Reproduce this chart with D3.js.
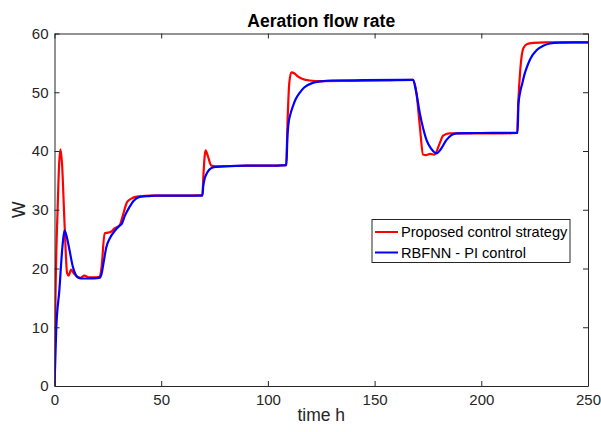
<!DOCTYPE html>
<html>
<head>
<meta charset="utf-8">
<script src="https://cdn.jsdelivr.net/npm/d3@7"></script>
<style>
  body { margin: 0; background: #fff; }
  text { font-family: Arial, "Liberation Sans", sans-serif; fill: #262626; }
</style>
</head>
<body>
<div id="chart"></div>
<script>
// Data
var xTicks = [0, 50, 100, 150, 200, 250];
var yTicks = [0, 10, 20, 30, 40, 50, 60];
var seriesNames = ["Proposed control strategy", "RBFNN - PI control"];

// Proposed control strategy (red)
var redT = [0, 0.5, 1.5, 2.2, 2.8, 3.5, 4.7, 5.9, 6.6, 7.8, 9, 10.9, 12, 14, 16, 18, 21, 22, 23.5, 25, 26.6, 28,
  30.5, 32, 34, 36, 38, 40, 45, 50, 60, 69.3, 69.8, 70.8, 71.8, 73.5, 76, 80, 90, 100, 108.5, 109.3, 110,
  111, 112.5, 114, 116, 119.6, 125, 140, 155, 168, 169.6, 171.2, 172.7, 174, 176, 178, 180.5, 182.1, 185,
  190, 200, 210, 216.8, 217.3, 218.3, 219.7, 221.5, 224.4, 230, 240, 250];
var redW = [0, 16, 30.5, 38, 40.3, 38, 27.7, 19.2, 18.8, 19.8, 19.2, 18.5, 18.4, 18.8, 18.5, 18.5, 18.6, 20, 26,
  26.1, 26.3, 26.8, 27.3, 29, 31.3, 31.9, 32.2, 32.3, 32.4, 32.4, 32.4, 32.5, 36, 40.1, 39.2, 37.5, 37.4,
  37.4, 37.5, 37.5, 37.6, 46, 51.5, 53.4, 53.2, 52.7, 52.3, 52.0, 51.9, 51.95, 52.0, 52.1, 49.9, 44.2,
  39.4, 39.3, 39.5, 39.4, 41.3, 42.6, 43.0, 43.0, 43.0, 43.0, 43.1, 48, 54, 57.5, 58.2, 58.4, 58.5, 58.5, 58.5];

// RBFNN - PI control (blue)
var blueT = [0, 0.8, 2.3, 3.6, 4.7, 5.8, 7, 8.6, 10, 11.5, 13, 16, 21, 22, 23, 24.2, 26, 28, 30.5, 31.5, 33,
  35.2, 37, 39.9, 43, 47, 55, 69.3, 69.7, 70.3, 71.1, 72.5, 74.2, 76, 80, 90, 100, 108.7, 109.1, 109.6,
  110.5, 111.7, 113, 114.9, 117, 121, 125, 130, 145, 168, 169.5, 171.2, 172.8, 174.3, 176.5, 179, 181,
  183.7, 186, 188.4, 195, 205, 217, 217.4, 218.1, 219.2, 220.2, 221.2, 223, 226, 229, 232.2, 237, 243, 250];
var blueW = [0, 9.5, 16.4, 23.2, 26.5, 25.3, 23.2, 20.3, 18.9, 18.4, 18.3, 18.3, 18.4, 19, 21, 23.5, 25.2, 26.3,
  27.3, 27.6, 29, 30.5, 31.5, 32.2, 32.3, 32.4, 32.4, 32.4, 34, 35.2, 36, 36.8, 37.2, 37.3, 37.4, 37.5,
  37.5, 37.6, 42, 44.5, 46.2, 47.6, 48.8, 49.9, 50.8, 51.6, 51.85, 52.0, 52.05, 52.1, 50, 46.4, 43.8, 41.9,
  40.4, 39.6, 40.3, 41.9, 42.7, 43.0, 43.05, 43.1, 43.1, 48, 49.8, 51.5, 53, 54.1, 55.7, 57.2, 57.9, 58.3,
  58.45, 58.5, 58.5];

var colors = ["#ff0000", "#0000ff"];

// Chart dimensions
var W = 601, H = 432;
var margin = {top: 33.5, right: 13, bottom: 46, left: 54.5};
var width = W - margin.left - margin.right;
var height = H - margin.top - margin.bottom;

var xScale = d3.scaleLinear().domain([0, 250]).range([0, width]),
    yScale = d3.scaleLinear().domain([0, 60]).range([height, 0]);

var svg = d3.select("#chart").append("svg")
    .attr("width", W)
    .attr("height", H)
  .append("g")
    .attr("transform", "translate(" + margin.left + "," + margin.top + ")");

// clip so lines stay in the box
svg.append("clipPath").attr("id", "clip")
  .append("rect").attr("width", width).attr("height", height);

var line = d3.line()
    .x(function(d) { return xScale(d[0]); })
    .y(function(d) { return yScale(d[1]); })
    .curve(d3.curveMonotoneX);

var series = [d3.zip(redT, redW), d3.zip(blueT, blueW)];

svg.append("g").attr("clip-path", "url(#clip)")
  .selectAll("path")
  .data(series)
  .enter().append("path")
    .attr("d", line)
    .attr("fill", "none")
    .attr("stroke", function(d, i) { return colors[i]; })
    .attr("stroke-width", 2.2)
    .attr("stroke-linejoin", "round");

// Axes (box with inward ticks on all sides)
function styleAxis(g) {
  g.select(".domain").attr("stroke", "#262626");
  g.selectAll(".tick line").attr("stroke", "#262626");
  g.selectAll("text").style("font-size", "15px").attr("fill", "#262626");
}

svg.append("g")
    .attr("transform", "translate(0," + height + ")")
    .call(d3.axisBottom(xScale).tickValues(xTicks).tickSizeInner(-5).tickSizeOuter(0).tickPadding(8))
    .call(styleAxis);

svg.append("g")
    .call(d3.axisLeft(yScale).tickValues(yTicks).tickSizeInner(-5).tickSizeOuter(0).tickPadding(6))
    .call(styleAxis);

svg.append("g")
    .call(d3.axisTop(xScale).tickValues(xTicks).tickSizeInner(-5).tickSizeOuter(0).tickFormat(""))
    .call(styleAxis);

svg.append("g")
    .attr("transform", "translate(" + width + ",0)")
    .call(d3.axisRight(yScale).tickValues(yTicks).tickSizeInner(-5).tickSizeOuter(0).tickFormat(""))
    .call(styleAxis);

// Labels
svg.append("text")
    .attr("x", width / 2)
    .attr("y", -7)
    .attr("text-anchor", "middle")
    .style("font-size", "17.5px")
    .style("font-weight", "bold")
    .style("fill", "#000")
    .text("Aeration flow rate");

svg.append("text")
    .attr("x", width / 2)
    .attr("y", height + 35)
    .attr("text-anchor", "middle")
    .style("font-size", "17.5px")
    .text("time h");

svg.append("text")
    .attr("transform", "translate(" + (-30) + "," + (height / 2) + ") rotate(-90)")
    .attr("text-anchor", "middle")
    .style("font-size", "17.5px")
    .text("W");

// Legend
var legend = svg.append("g")
    .attr("transform", "translate(" + (372 - margin.left) + "," + (219.5 - margin.top) + ")");

legend.append("rect")
    .attr("width", 198)
    .attr("height", 43)
    .attr("fill", "#fff")
    .attr("stroke", "#262626")
    .attr("stroke-width", 1);

var item = legend.selectAll(".item")
    .data(seriesNames)
  .enter().append("g")
    .attr("transform", function(d, i) { return "translate(0," + (12.5 + i * 20.5) + ")"; });

item.append("line")
    .attr("x1", 3).attr("x2", 26)
    .attr("stroke", function(d, i) { return colors[i]; })
    .attr("stroke-width", 2);

item.append("text")
    .attr("x", 29)
    .attr("dy", "0.35em")
    .style("font-size", "14.6px")
    .style("fill", "#000")
    .text(function(d) { return d; });
</script>
</body>
</html>
